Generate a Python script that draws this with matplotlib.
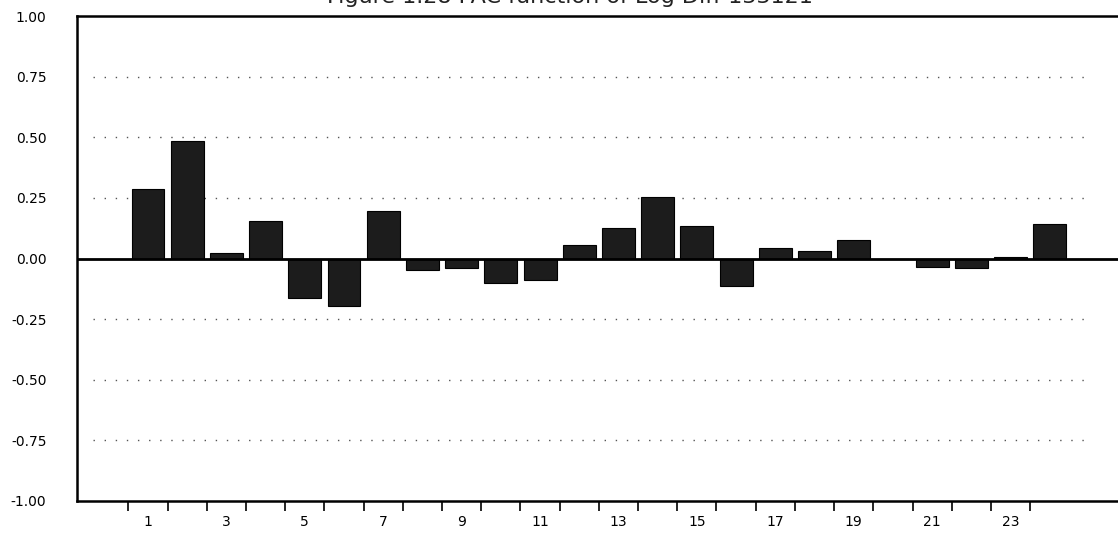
import matplotlib
matplotlib.use("Agg")
import matplotlib.pyplot as plt

# partial autocorrelations
lags = list(range(1, 25))
pacf = [0.285, 0.483, 0.021, 0.153, -0.164, -0.194, 0.197, -0.048,
        -0.039, -0.100, -0.088, 0.056, 0.127, 0.253, 0.136, -0.115,
        0.045, 0.031, 0.077, 0.000, -0.035, -0.040, 0.005, 0.143]
y_ticks = [1.00, 0.75, 0.50, 0.25, 0.00, -0.25, -0.50, -0.75, -1.00]
x_labels = [1, 3, 5, 7, 9, 11, 13, 15, 17, 19, 21, 23]
title = "Figure 1.28 PAC function of Log Diff 133121"

fig = plt.figure(figsize=(11.18, 5.4), dpi=100)
ax = fig.add_axes([77 / 1118, 39 / 540, 1041 / 1118, 485 / 540])

# dotted reference lines
for v in [0.75, 0.50, 0.25, -0.25, -0.50, -0.75]:
    ax.axhline(v, xmin=0.015, xmax=0.975, color="#555555", lw=1,
               linestyle=(0, (1, 7)), zorder=1)

ax.bar(lags, pacf, width=0.84, color="#1c1c1c", edgecolor="black",
       linewidth=0.8, zorder=3)
ax.axhline(0, color="black", lw=2, zorder=4)

ax.set_xlim(-0.81, 25.74)
ax.set_ylim(-1, 1)

# ticks: y labels without marks, x marks on bin edges and labels on odd lags
ax.set_yticks(y_ticks)
ax.set_yticklabels([f"{v:.2f}" for v in y_ticks])
ax.tick_params(axis="y", length=0, pad=22, labelsize=10)

ax.set_xticks([k + 0.5 for k in range(24)])
ax.set_xticks(x_labels, minor=True)
ax.set_xticklabels([])
ax.set_xticklabels([str(v) for v in x_labels], minor=True)
ax.tick_params(axis="x", which="major", direction="out", length=7, width=1.2)
ax.tick_params(axis="x", which="minor", length=0, pad=10, labelsize=10)

ax.spines["right"].set_visible(False)
for s in ["top", "bottom", "left"]:
    ax.spines[s].set_linewidth(1.8)

# title is cut off at the top of the page
fig.text(0.51, 0.995, title, ha="center", va="baseline", fontsize=16,
         color="#222222")

fig.savefig("out.png", dpi=100)
